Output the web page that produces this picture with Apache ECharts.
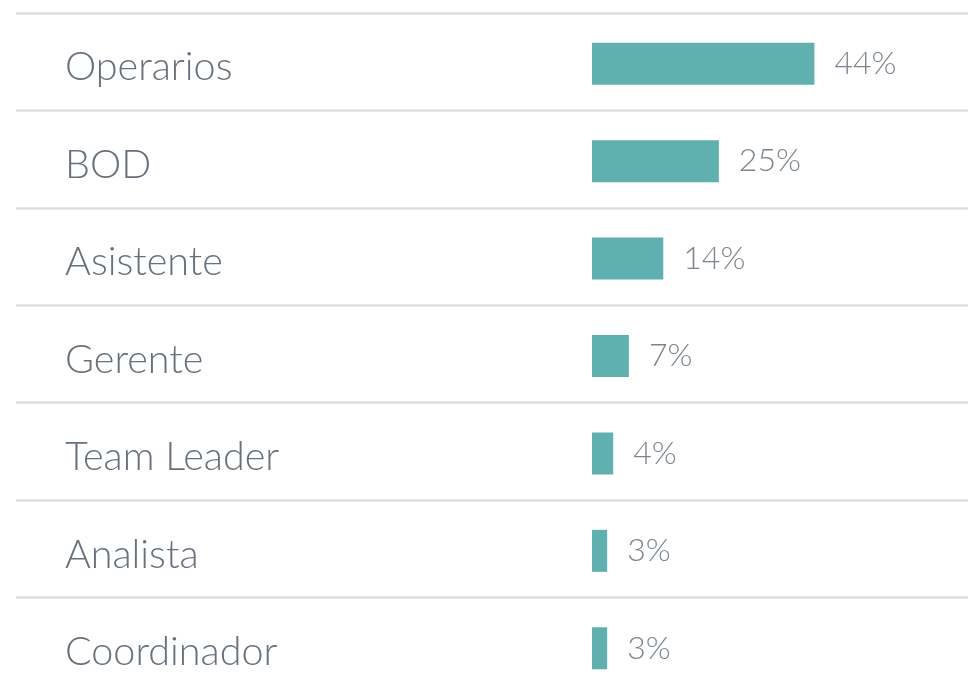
<!DOCTYPE html>
<html>
<head>
<meta charset="utf-8">
<script src="https://cdn.jsdelivr.net/npm/echarts@6/dist/echarts.min.js"></script>
<style>
html,body{margin:0;padding:0;background:#fff;}
#chart{width:968px;height:687px;}
</style>
</head>
<body>
<div id="chart"></div>
<script>
const categories = ['Operarios', 'BOD', 'Asistente', 'Gerente', 'Team Leader', 'Analista', 'Coordinador'];
const values = [44, 25.1, 14.1, 7.3, 4.2, 3, 3];

const chart = echarts.init(document.getElementById('chart'), null, {renderer: 'canvas'});
const font = 'Lato';
chart.setOption({
  animation: false,
  backgroundColor: '#ffffff',
  grid: [
    {left: 592, right: 2, top: 15, height: 682, outerBoundsMode: 'none', containLabel: false},
    {left: 16, right: 0, top: 13, height: 682, outerBoundsMode: 'none', containLabel: false}
  ],
  xAxis: [
    {type: 'value', gridIndex: 0, min: 0, max: 74, show: false},
    {type: 'value', gridIndex: 1, min: 0, max: 1, show: false}
  ],
  yAxis: [
    {
      type: 'category', gridIndex: 0, data: categories, inverse: true,
      axisLine: {show: false}, axisTick: {show: false}, splitLine: {show: false},
      axisLabel: {
        align: 'left', margin: 527,
        formatter: v => '{a|' + v + '}',
        rich: {
          a: {fontFamily: font, fontWeight: 300, fontSize: 39.5, color: '#66717b', padding: [8, 0, 0, 0]}
        }
      }
    },
    {
      type: 'category', gridIndex: 1, data: categories, inverse: true,
      axisLine: {show: false}, axisTick: {show: false}, axisLabel: {show: false},
      splitLine: {show: true, lineStyle: {color: '#dcdfe2', width: 2.5}}
    }
  ],
  series: [{
    type: 'bar', xAxisIndex: 0, yAxisIndex: 0, data: values,
    barWidth: 42,
    itemStyle: {color: '#60b0b0'},
    label: {
      show: true, position: 'right', distance: 20,
      fontFamily: font, fontWeight: 300, fontSize: 32, color: '#7c858e',
      formatter: p => Math.round(p.value) + '%'
    }
  }]
});
</script>
</body>
</html>
